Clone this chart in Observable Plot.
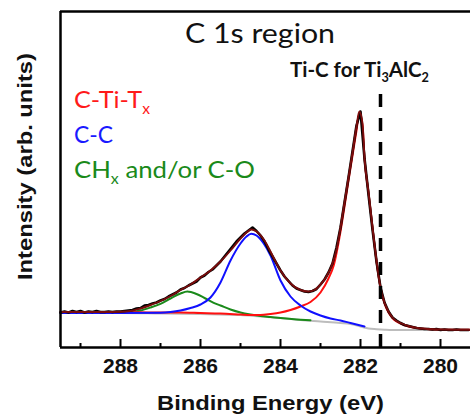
<!DOCTYPE html>
<html>
<head>
<meta charset="utf-8">
<script src="https://cdn.jsdelivr.net/npm/d3@7"></script>
<script src="https://cdn.jsdelivr.net/npm/@observablehq/plot@0.6"></script>
<style>
  html, body { margin: 0; padding: 0; background: #fff; }
  #chart svg { display: block; }
</style>
</head>
<body>
<div id="chart"></div>
<script>
// ---- data (binding energy in eV, intensity in arb. units) ----
const majorTicks = [288, 286, 284, 282, 280];
const minorTicks = [289, 287, 285, 283, 281];
const tiCRef = 281.5;        // Ti-C for Ti3AlC2 reference position
const tiCRefTop = 260;       // top of the dashed reference line (intensity units)

const BE_bg = [289.5, 288, 287, 286, 285, 284.5, 284, 283.5, 283, 282.5, 282.25, 282, 281.8, 281.6, 281.4, 281.2, 279.25];
const I_bg  = [34.5, 34.5, 34, 33.5, 32.5, 31, 29.5, 27.5, 26, 24.5, 23.5, 21, 19, 18.3, 17.8, 17.5, 17.5];

const BE_green = [289.5, 288.5, 288, 287.75, 287.5, 287.25, 287.0, 286.75, 286.5, 286.33, 286.1, 285.9, 285.67, 285.5, 285.25, 285.0, 284.75, 284.5, 284.25, 284.0, 283.5, 283.25];
const I_green  = [34.5, 34.5, 34.7, 35.5, 37, 40, 43.7, 49, 54, 56, 53.5, 49.5, 44.7, 42, 38, 35, 33, 31.5, 30.5, 29.5, 27.8, 27.2];

const BE_red = [289.5, 288.5, 287.5, 287.0, 286.5, 286.0, 285.5, 285.0, 284.75, 284.5, 284.25, 284.0, 283.75, 283.5, 283.25, 283.0, 282.8, 282.67, 282.5, 282.4, 282.3, 282.2, 282.1, 282.03, 281.95, 281.9, 281.8, 281.7, 281.6, 281.5, 281.4, 281.3, 281.2, 281.1, 281.0, 280.8, 280.5, 280.0, 279.25];
const I_red  = [35.5, 35.5, 35.2, 35, 35, 34.5, 34, 33, 32.5, 32.5, 33.5, 35, 37.5, 41, 45.5, 55, 69, 82, 116, 141, 167, 192, 217, 234, 222, 189, 155, 120, 86, 60, 44, 35, 29.5, 26, 24, 21, 19, 17.8, 17.7];

const BE_blue = [289.5, 288, 287.0, 286.75, 286.5, 286.25, 286.0, 285.75, 285.5, 285.25, 285.0, 284.85, 284.73, 284.6, 284.42, 284.25, 284.0, 283.75, 283.5, 283.25, 283.0, 282.75, 282.5, 282.25, 282.0, 281.9];
const I_blue  = [34.5, 34.5, 34.8, 35.5, 37, 39.5, 43, 50, 65, 87, 104, 111, 113.7, 112, 104, 92, 67, 51, 42, 36, 32, 29, 27, 24.5, 22, 21];

const BE_env = [289.5, 289.0, 288.5, 288.0, 287.75, 287.5, 287.25, 287.0, 286.75, 286.5, 286.25, 286.0, 285.75, 285.5, 285.25, 285.0, 284.85, 284.73, 284.6, 284.4, 284.2, 284.0, 283.75, 283.5, 283.3, 283.15, 283.0, 282.85, 282.7, 282.6, 282.5, 282.4, 282.3, 282.2, 282.1, 282.03, 281.95, 281.9, 281.8, 281.7, 281.6, 281.5, 281.4, 281.3, 281.2, 281.1, 281.0, 280.8, 280.5, 280.0, 279.25];
const I_env  = [35.5, 35.5, 35.5, 35.8, 36.5, 39, 42.5, 46.5, 51.5, 57.5, 63, 70, 77, 86, 97, 109, 115, 118, 116, 107, 92, 77, 64, 57.5, 56, 57.5, 63, 71, 84, 98, 120, 145, 170, 195, 221, 236, 224, 190, 155, 120, 87, 60, 45, 36, 30, 26.5, 24.5, 21.5, 19, 18, 17.7];

// measured spectrum (0.1 eV steps, 289.5 -> 279.3)
const BE_data = [289.5, 289.4, 289.3, 289.2, 289.1, 289.0, 288.9, 288.8, 288.7, 288.6, 288.5, 288.4, 288.3, 288.2, 288.1, 288.0, 287.9, 287.8, 287.7, 287.6, 287.5, 287.4, 287.3, 287.2, 287.1, 287.0, 286.9, 286.8, 286.7, 286.6, 286.5, 286.4, 286.3, 286.2, 286.1, 286.0, 285.9, 285.8, 285.7, 285.6, 285.5, 285.4, 285.3, 285.2, 285.1, 285.0, 284.9, 284.8, 284.7, 284.6, 284.5, 284.4, 284.3, 284.2, 284.1, 284.0, 283.9, 283.8, 283.7, 283.6, 283.5, 283.4, 283.3, 283.2, 283.1, 283.0, 282.9, 282.8, 282.7, 282.6, 282.5, 282.4, 282.3, 282.2, 282.1, 282.0, 281.9, 281.8, 281.7, 281.6, 281.5, 281.4, 281.3, 281.2, 281.1, 281.0, 280.9, 280.8, 280.7, 280.6, 280.5, 280.4, 280.3, 280.2, 280.1, 280.0, 279.9, 279.8, 279.7, 279.6, 279.5, 279.4, 279.3];
const I_data  = [35, 36, 35, 36.5, 35.5, 36.5, 35, 36, 35.5, 36.5, 35.5, 35.5, 36, 35.5, 36, 36, 36.5, 37, 37.5, 39, 39.5, 42, 42.5, 44, 45, 47, 48.5, 51, 53, 55, 58, 59.5, 62, 64, 66, 70, 72, 75.5, 78, 82, 86, 91, 96, 101, 106, 110, 114, 117, 120, 116.5, 112, 106, 98, 91, 84, 77, 71, 66.5, 62, 59, 57.5, 56, 55.5, 56.5, 58.5, 63, 68, 75, 84, 100, 120, 145, 170, 196, 222, 236, 189, 153, 118, 86, 60, 45, 36, 30, 27, 24.5, 22.5, 21.5, 20.5, 19.5, 19, 18.5, 18.5, 18, 18.5, 17.5, 18, 17.5, 17.5, 18, 17.5, 17.5, 17.5];

const pts = (xs, ys) => xs.map((x, i) => ({be: x, v: ys[i]}));

const chart = Plot.plot({
  width: 470,
  height: 416,
  marginLeft: 60,
  marginRight: 0,
  marginTop: 11,
  marginBottom: 69,
  style: {fontFamily: "'Liberation Sans', Arial, sans-serif", color: "#111", background: "#fff"},
  x: {domain: [289.5, 279.25]},
  y: {domain: [0, 336], axis: null},
  marks: [
    Plot.line(pts(BE_bg, I_bg), {x: "be", y: "v", stroke: "#bdbdbd", strokeWidth: 2, curve: "monotone-x"}),
    Plot.line(pts(BE_green, I_green), {x: "be", y: "v", stroke: "#1a8a1a", strokeWidth: 2, curve: "monotone-x"}),
    Plot.line(pts(BE_red, I_red), {x: "be", y: "v", stroke: "#ff1010", strokeWidth: 2, curve: "monotone-x"}),
    Plot.line(pts(BE_blue, I_blue), {x: "be", y: "v", stroke: "#1010ff", strokeWidth: 2, curve: "monotone-x"}),
    Plot.line(pts(BE_data, I_data), {x: "be", y: "v", stroke: "#000", strokeWidth: 2.6}),
    Plot.line(pts(BE_env, I_env), {x: "be", y: "v", stroke: "#7a0c0c", strokeWidth: 1.9, curve: "monotone-x"}),
    Plot.ruleX([tiCRef], {y1: 0, y2: tiCRefTop, stroke: "#000", strokeWidth: 3.5, strokeDasharray: "13,11"}),
    Plot.ruleX(majorTicks, {y1: 0, y2: 8, stroke: "#000", strokeWidth: 2}),
    Plot.ruleX(minorTicks, {y1: 0, y2: 4, stroke: "#000", strokeWidth: 2}),
    Plot.axisX({ticks: majorTicks, tickSize: 0, tickPadding: 11, fontSize: 21, fontWeight: "bold", label: null, tickFormat: d => String(d)}),
    Plot.ruleY([0, 336], {stroke: "#000", strokeWidth: 2.5}),
    Plot.ruleX([289.5], {stroke: "#000", strokeWidth: 2.5})
  ]
});

document.getElementById("chart").appendChild(chart);

// ---- text annotations ----
const svg = d3.select(chart);
function addText(parts, opts) {
  const t = svg.append("text")
    .attr("x", opts.x).attr("y", opts.y)
    .attr("fill", opts.fill || "#000")
    .attr("font-family", opts.family)
    .attr("font-size", opts.size)
    .attr("font-weight", opts.weight || "normal")
    .attr("text-anchor", opts.anchor || "start");
  if (opts.length) t.attr("textLength", opts.length).attr("lengthAdjust", "spacingAndGlyphs");
  if (opts.transform) t.attr("transform", opts.transform);
  for (const p of parts) {
    const s = t.append("tspan").text(p.t);
    if (p.sub) s.attr("font-size", opts.size * 0.62).attr("dy", opts.size * 0.24);
    else if (p.after) s.attr("dy", -opts.size * 0.24);
  }
  return t;
}
const calib = "Lato, 'Open Sans', sans-serif";
const arial = "'Liberation Sans', Arial, sans-serif";

addText([{t: "C 1s region"}], {x: 185, y: 43, size: 27, family: calib, fill: "#111", length: 150});
addText([{t: "C-Ti-T"}, {t: "x", sub: true}], {x: 74, y: 108, size: 23.5, family: calib, fill: "#ff1a1a", length: 76});
addText([{t: "C-C"}], {x: 74, y: 143, size: 23.5, family: calib, fill: "#1a1aff", length: 39});
addText([{t: "CH"}, {t: "x", sub: true}, {t: " and/or C-O", after: true}], {x: 74, y: 178, size: 23.5, family: calib, fill: "#1a8a1a", length: 181});
addText([{t: "Ti-C for Ti"}, {t: "3", sub: true}, {t: "AlC", after: true}, {t: "2", sub: true}], {x: 290, y: 77, size: 20.5, family: calib, weight: "bold", fill: "#111"});
addText([{t: "Binding Energy (eV)"}], {x: 157, y: 410, size: 21, family: arial, weight: "bold", fill: "#111", length: 227});
addText([{t: "Intensity (arb. units)"}], {x: 0, y: 0, size: 21, family: arial, weight: "bold", fill: "#111", length: 227, anchor: "middle", transform: "translate(32,166.5) rotate(-90)"});
</script>
</body>
</html>
